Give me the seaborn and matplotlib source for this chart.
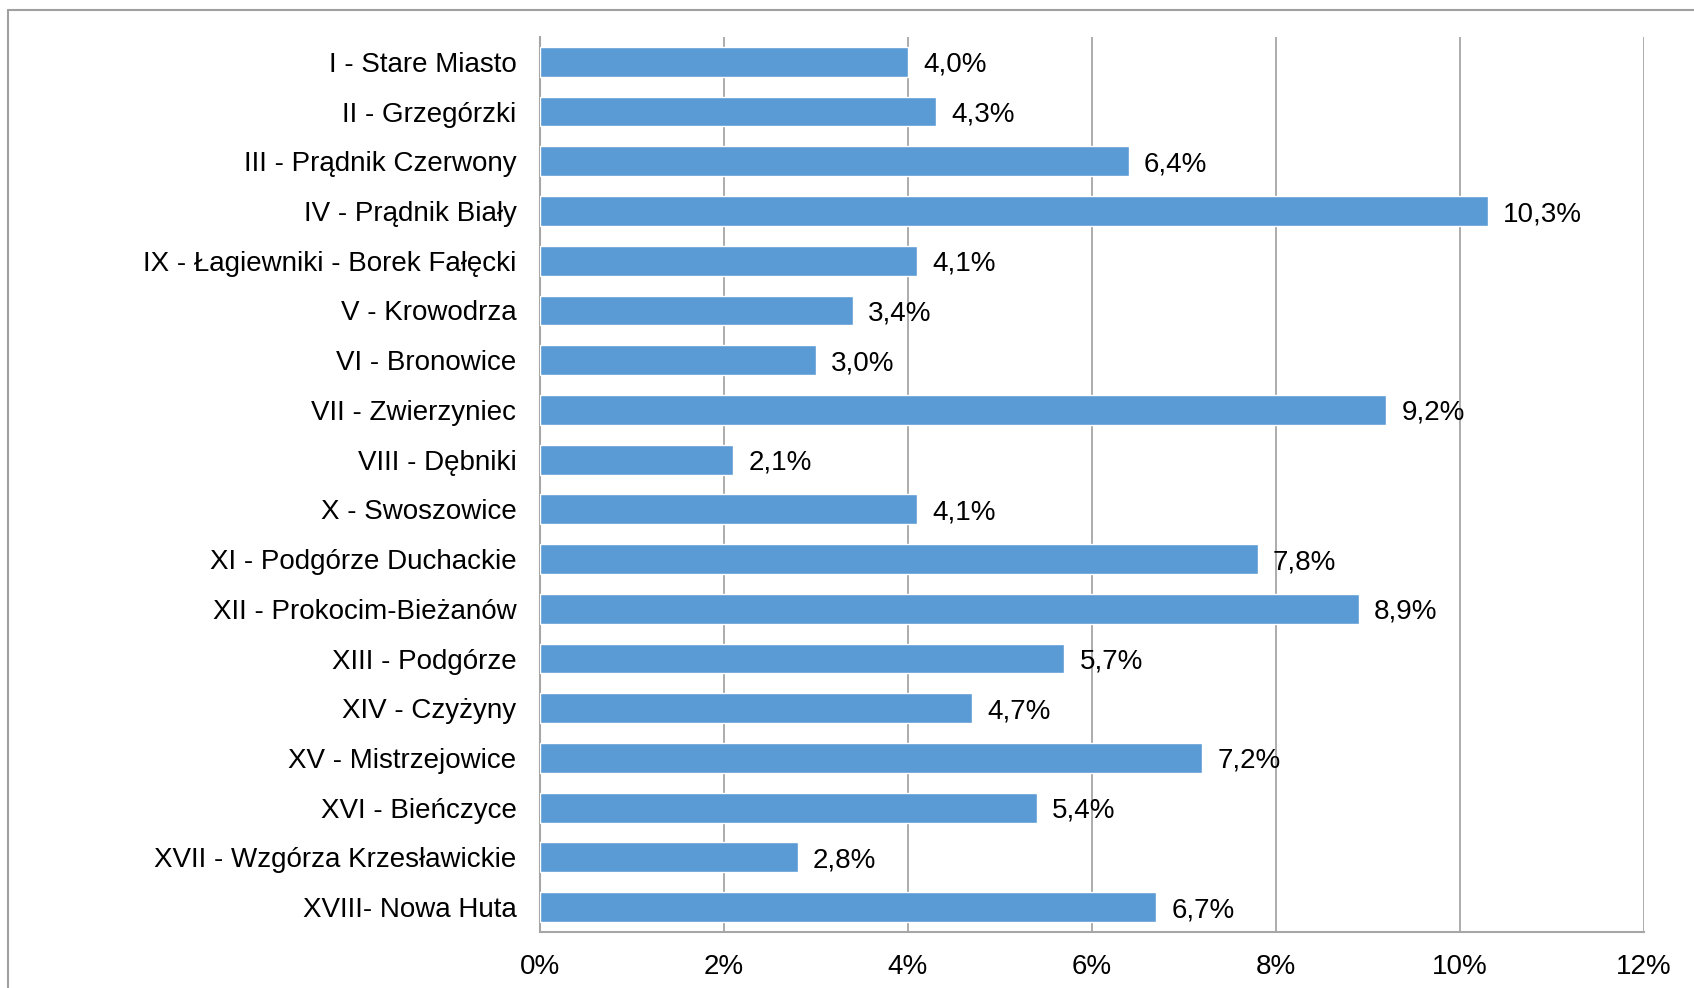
import matplotlib
matplotlib.use("Agg")
import matplotlib.pyplot as plt
import seaborn as sns
import pandas as pd
from matplotlib.lines import Line2D
from matplotlib.ticker import FixedLocator

# districts and share (%)
districts = [
    "I - Stare Miasto",
    "II - Grzegórzki",
    "III - Prądnik Czerwony",
    "IV - Prądnik Biały",
    "IX - Łagiewniki - Borek Fałęcki",
    "V - Krowodrza",
    "VI - Bronowice",
    "VII - Zwierzyniec",
    "VIII - Dębniki",
    "X - Swoszowice",
    "XI - Podgórze Duchackie",
    "XII - Prokocim-Bieżanów",
    "XIII - Podgórze",
    "XIV - Czyżyny",
    "XV - Mistrzejowice",
    "XVI - Bieńczyce",
    "XVII - Wzgórza Krzesławickie",
    "XVIII- Nowa Huta",
]
shares = [4.0, 4.3, 6.4, 10.3, 4.1, 3.4, 3.0, 9.2, 2.1, 4.1, 7.8, 8.9, 5.7, 4.7, 7.2, 5.4, 2.8, 6.7]
x_ticks = [0, 2, 4, 6, 8, 10, 12]

df = pd.DataFrame({"district": districts, "share": shares})

sns.set_style("white")
plt.rcParams["font.family"] = ["Liberation Sans", "DejaVu Sans"]

grid_col = "#A6A6A6"
bar_col = "#5B9BD5"

fig = plt.figure(figsize=(16.94, 9.88), dpi=100)
ax = fig.add_axes([540 / 1694, 1 - 932 / 988, (1644 - 540) / 1694, (932 - 37) / 988])

sns.barplot(data=df, x="share", y="district", orient="h", color=bar_col,
            width=0.6, saturation=1, ax=ax, zorder=3)

# data labels (comma decimal)
labels = [f"{v:.1f}%".replace(".", ",") for v in shares]
texts = ax.bar_label(ax.containers[0], labels=labels, padding=11, fontsize=20, color="black")
for t in texts:
    t.set_va("center_baseline")

ax.set_xlim(0, 12)
ax.set_ylim(len(districts) - 0.5, -0.5)
ax.set_xticks(x_ticks)
ax.set_xticklabels([f"{t}%" for t in x_ticks])
ax.set_xlabel("")
ax.set_ylabel("")

# vertical gridlines
for t in x_ticks[1:]:
    ax.axvline(t, color=grid_col, lw=1.3, zorder=1)

for s in ["top", "right"]:
    ax.spines[s].set_visible(False)
for s in ["left", "bottom"]:
    ax.spines[s].set_color(grid_col)
    ax.spines[s].set_linewidth(1.5)

ax.tick_params(axis="x", direction="out", length=6, width=1.3, color=grid_col,
               labelsize=20, pad=10, labelcolor="black")
ax.tick_params(axis="y", which="major", length=0, labelsize=20, pad=17, labelcolor="black")
ax.yaxis.set_minor_locator(FixedLocator([i - 0.5 for i in range(len(districts) + 1)]))
ax.tick_params(axis="y", which="minor", direction="out", length=5, width=1.3, color=grid_col)

# outer chart frame (top and left edges visible)
fig.add_artist(Line2D([8 / 1694, 1.0], [1 - 10 / 988, 1 - 10 / 988],
                      transform=fig.transFigure, color="#A0A0A0", lw=1.5))
fig.add_artist(Line2D([8 / 1694, 8 / 1694], [0.0, 1 - 10 / 988],
                      transform=fig.transFigure, color="#A0A0A0", lw=1.5))

fig.savefig("out.png", dpi=100)
